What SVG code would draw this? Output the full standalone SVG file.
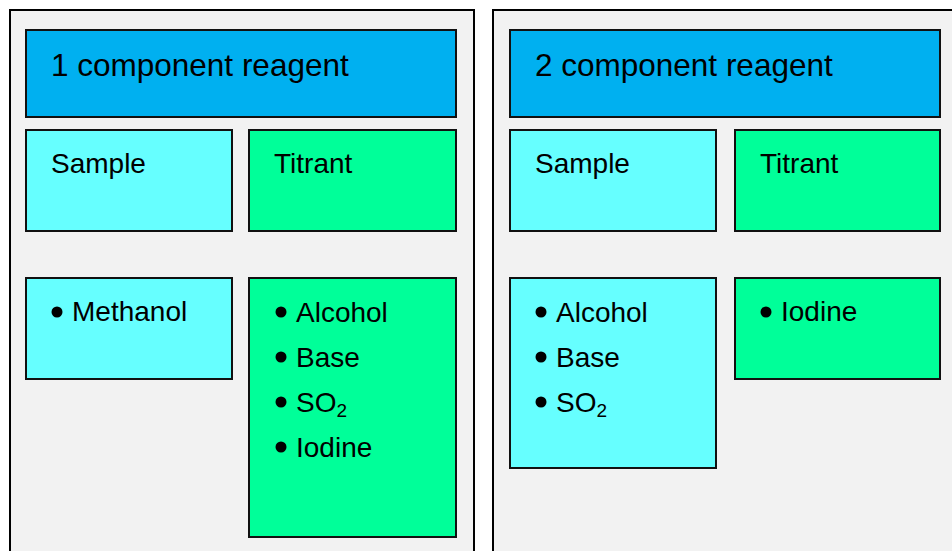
<svg xmlns="http://www.w3.org/2000/svg" width="952" height="551" viewBox="0 0 952 551">
<style>
  .panel { fill: #f2f2f2; stroke: #000; stroke-width: 2; }
  .box { stroke: #111; stroke-width: 2; }
  .head { fill: #00b0f0; }
  .cyan { fill: #66ffff; }
  .green { fill: #00ff99; }
  text { font-family: "Liberation Sans", Arial, sans-serif; fill: #000; }
  .ht { font-size: 31.5px; }
  .bt { font-size: 28px; }
  .sub { font-size: 19px; }
  .dot { fill: #000; }
</style>
<rect width="952" height="551" fill="#ffffff"/>
<g id="panel-1">
  <rect class="panel" x="10" y="10" width="464" height="560"/>
</g>
<g id="panel-2">
  <rect class="panel" x="493" y="10" width="480" height="560"/>
</g>
<g id="connectors"/>
<g id="header-1">
  <rect class="box head" x="26" y="30" width="430" height="87"/>
  <text class="ht" x="51" y="76">1 component reagent</text>
</g>
<g id="sample-1">
  <rect class="box cyan" x="26" y="130" width="206" height="101"/>
  <text class="bt" x="51" y="173">Sample</text>
</g>
<g id="titrant-1">
  <rect class="box green" x="249" y="130" width="207" height="101"/>
  <text class="bt" x="274" y="173">Titrant</text>
</g>
<g id="sample-list-1">
  <rect class="box cyan" x="26" y="278" width="206" height="101"/>
  <circle class="dot" cx="57" cy="312" r="5.5"/>
  <text class="bt" x="72" y="321">Methanol</text>
</g>
<g id="titrant-list-1">
  <rect class="box green" x="249" y="278" width="207" height="259"/>
  <circle class="dot" cx="281" cy="312" r="5.5"/>
  <text class="bt" x="296" y="322">Alcohol</text>
  <circle class="dot" cx="281" cy="357" r="5.5"/>
  <text class="bt" x="296" y="367">Base</text>
  <circle class="dot" cx="281" cy="402" r="5.5"/>
  <text class="bt" x="296" y="412">SO<tspan class="sub" dy="5">2</tspan></text>
  <circle class="dot" cx="281" cy="447" r="5.5"/>
  <text class="bt" x="296" y="457">Iodine</text>
</g>
<g id="header-2">
  <rect class="box head" x="510" y="30" width="430" height="87"/>
  <text class="ht" x="535" y="76">2 component reagent</text>
</g>
<g id="sample-2">
  <rect class="box cyan" x="510" y="130" width="206" height="101"/>
  <text class="bt" x="535" y="173">Sample</text>
</g>
<g id="titrant-2">
  <rect class="box green" x="735" y="130" width="205" height="101"/>
  <text class="bt" x="760" y="173">Titrant</text>
</g>
<g id="sample-list-2">
  <rect class="box cyan" x="510" y="278" width="206" height="190"/>
  <circle class="dot" cx="541" cy="312" r="5.5"/>
  <text class="bt" x="556" y="322">Alcohol</text>
  <circle class="dot" cx="541" cy="357" r="5.5"/>
  <text class="bt" x="556" y="367">Base</text>
  <circle class="dot" cx="541" cy="402" r="5.5"/>
  <text class="bt" x="556" y="412">SO<tspan class="sub" dy="5">2</tspan></text>
</g>
<g id="titrant-list-2">
  <rect class="box green" x="735" y="278" width="205" height="101"/>
  <circle class="dot" cx="766" cy="312" r="5.5"/>
  <text class="bt" x="781" y="321">Iodine</text>
</g>
</svg>
